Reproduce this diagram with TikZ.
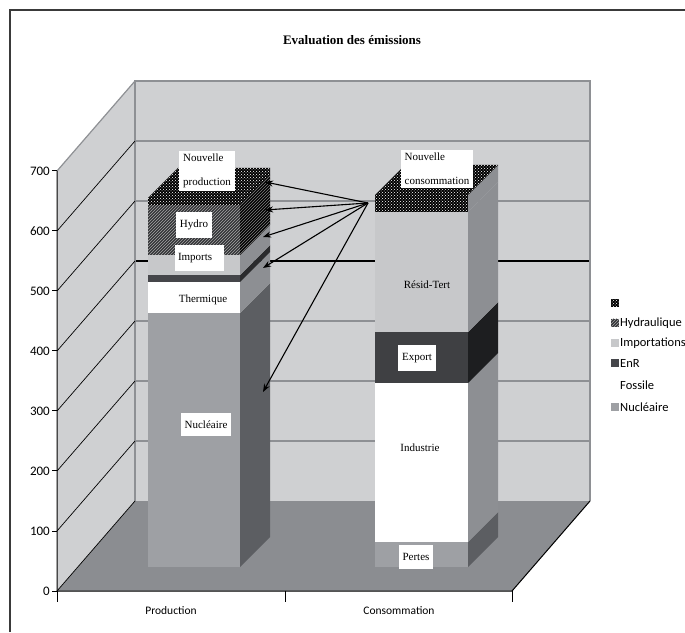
\documentclass[tikz,border=0pt]{standalone}
\usepackage{fontspec}
\setmainfont{Liberation Serif}
\setsansfont{Carlito}
\usetikzlibrary{patterns,arrows.meta}
\definecolor{framegray}{HTML}{3A3A3A}
\definecolor{wallgray}{HTML}{CFD0D2}
\definecolor{gridgray}{HTML}{8E9094}
\definecolor{floorgray}{HTML}{8B8D91}
\definecolor{nucfront}{HTML}{9EA0A4}
\definecolor{nucside}{HTML}{5C5E62}
\definecolor{lightside}{HTML}{8D8F93}
\definecolor{enrfront}{HTML}{45464A}
\definecolor{enrside}{HTML}{2A2B2D}
\definecolor{impfront}{HTML}{C7C8CA}
\definecolor{hydbg}{HTML}{333437}
\definecolor{expfront}{HTML}{3F4043}
\definecolor{expside}{HTML}{1D1E20}

\begin{document}
\begin{tikzpicture}[x=1pt,y=1pt,
  barlbl/.style={font=\fontsize{11}{13}\selectfont},
  boxlbl/.style={barlbl, fill=white, inner xsep=4pt, inner ysep=8pt},
  ticklbl/.style={font=\sffamily\fontsize{13}{15}\selectfont, anchor=east, inner sep=1pt},
  catlbl/.style={font=\sffamily\fontsize{11.5}{14}\selectfont},
  leglbl/.style={font=\sffamily\fontsize{12.5}{14}\selectfont, anchor=west, inner sep=0pt},
  newpat/.style={fill=black, postaction={pattern=crosshatch dots, pattern color=white}},
  hydpat/.style={fill=hydbg, postaction={pattern=north east lines, pattern color=gray!70}},
  hydside/.style={fill=black, postaction={pattern=north east lines, pattern color=gray}},
  gridback/.style={draw=gridgray, line width=2pt},
  gridside/.style={draw=black, line width=0.7pt},
  pointer/.style={-{Stealth[length=8pt,width=6pt]}, line width=1.1pt},
]
\useasboundingbox (0,0) rectangle (685,632);
\draw[framegray, line width=1.5pt] (10,0) -- (10,622) -- (685,622);

\node[font=\bfseries\fontsize{13}{15}\selectfont] (title) at (352,592) {Evaluation des émissions};

% walls and floor
\fill[wallgray] (57,41) -- (135,131) -- (135,551) -- (57,461) -- cycle;
\fill[wallgray] (135,131) rectangle (590,551);
\fill[floorgray] (57,41) -- (135,131) -- (590,131) -- (512,41) -- cycle;

\draw[gridback] (135,191) -- (590,191);
\draw[gridback] (135,251) -- (590,251);
\draw[gridback] (135,311) -- (590,311);
\draw[black, line width=1.2pt] (135,371) -- (590,371);
\draw[gridback] (135,431) -- (590,431);
\draw[gridback] (135,491) -- (590,491);
\draw[gridgray, line width=1.5pt] (135,131) -- (135,551) -- (590,551) -- (590,131);

\draw[gridside] (57,41) -- (135,131);
\draw[gridside] (57,101) -- (135,191);
\draw[gridside] (57,161) -- (135,251);
\draw[gridside] (57,221) -- (135,311);
\draw[gridside] (57,281) -- (135,371);
\draw[gridside] (57,341) -- (135,431);
\draw[gridside] (57,401) -- (135,491);
\draw[gridgray, line width=1.2pt] (57,461) -- (135,551);

% axes
\draw[line width=1pt] (57,461) -- (57,41) -- (512,41) -- (590,131);
\draw[line width=1pt] (57,41) -- (57,30);
\draw[line width=1pt] (285,41) -- (285,30);
\draw[line width=1pt] (512,41) -- (512,30);
\draw[line width=1pt] (52,41) -- (57,41);
\draw[line width=1pt] (52,101) -- (57,101);
\draw[line width=1pt] (52,161) -- (57,161);
\draw[line width=1pt] (52,221) -- (57,221);
\draw[line width=1pt] (52,281) -- (57,281);
\draw[line width=1pt] (52,341) -- (57,341);
\draw[line width=1pt] (52,401) -- (57,401);
\draw[line width=1pt] (52,461) -- (57,461);

\node[ticklbl] (v0) at (51,41) {0};
\node[ticklbl] (v100) at (51,101) {100};
\node[ticklbl] (v200) at (51,161) {200};
\node[ticklbl] (v300) at (51,221) {300};
\node[ticklbl] (v400) at (51,281) {400};
\node[ticklbl] (v500) at (51,341) {500};
\node[ticklbl] (v600) at (51,401) {600};
\node[ticklbl] (v700) at (51,461) {700};

\node[catlbl] (prod) at (171,21) {Production};
\node[catlbl] (cons) at (399,21) {Consommation};

% production bar
\fill[nucfront] (148,65) rectangle (240,319);
\fill[nucside] (240,65) -- ++(30,30) -- (270,349) -- (240,319) -- cycle;
\fill[white] (148,319) rectangle (240,350);
\fill[lightside] (240,319) -- ++(30,30) -- (270,380) -- (240,350) -- cycle;
\fill[enrfront] (148,350) rectangle (240,357);
\fill[enrside] (240,350) -- ++(30,30) -- (270,387) -- (240,357) -- cycle;
\fill[impfront] (148,357) rectangle (240,377);
\fill[lightside] (240,357) -- ++(30,30) -- (270,407) -- (240,377) -- cycle;
\fill[hydpat] (148,377) rectangle (240,427);
\fill[hydside] (240,377) -- ++(30,30) -- (270,457) -- (240,427) -- cycle;
\fill[newpat] (148,427) rectangle (240,434);
\fill[newpat] (240,427) -- ++(30,30) -- (270,464) -- (240,434) -- cycle;
\fill[newpat] (148,434) -- (240,434) -- (270,464) -- (178,464) -- cycle;

% consommation bar
\fill[nucfront] (375,65) rectangle (468,90);
\fill[nucside] (468,65) -- ++(30,30) -- (498,120) -- (468,90) -- cycle;
\fill[white] (375,90) rectangle (468,249);
\fill[lightside] (468,90) -- ++(30,30) -- (498,279) -- (468,249) -- cycle;
\fill[expfront] (375,249) rectangle (468,300);
\fill[expside] (468,249) -- ++(30,30) -- (498,330) -- (468,300) -- cycle;
\fill[impfront] (375,300) rectangle (468,420);
\fill[lightside] (468,300) -- ++(30,30) -- (498,450) -- (468,420) -- cycle;
\fill[newpat] (375,420) rectangle (468,437);
\fill[lightside] (468,420) -- ++(30,30) -- (498,467) -- (468,437) -- cycle;
\fill[newpat] (375,437) -- (468,437) -- (498,467) -- (405,467) -- cycle;

% labels
\node[boxlbl, align=left, font=\fontsize{11}{24}\selectfont, inner ysep=3pt] (newprod) at (207,461) {Nouvelle\\production};
\node[boxlbl] (hydro) at (194,407) {Hydro};
\node[boxlbl, inner xsep=3pt, text width=43pt, align=left] (imports) at (199.5,374) {Imports};
\node[barlbl] (therm) at (203,332) {Thermique};
\node[boxlbl] (nuc) at (206,207.5) {Nucléaire};
\node[boxlbl, align=left, font=\fontsize{11}{24}\selectfont, inner ysep=3pt] (newcons) at (437,463) {Nouvelle\\consommation};
\node[barlbl] (resid) at (427,347) {Résid-Tert};
\node[boxlbl] (export) at (417,274) {Export};
\node[barlbl] (indus) at (420,184) {Industrie};
\node[boxlbl] (pertes) at (416,75) {Pertes};

% arrows
\coordinate (src) at (368,429);
\coordinate (toNew) at (265,450);
\coordinate (toHyd) at (265,422);
\coordinate (toImp) at (263,395);
\coordinate (toEnr) at (263,364);
\coordinate (toNuc) at (263,240);
\draw[pointer] (src) -- (toNew);
\draw[pointer] (src) -- (toHyd);
\draw[pointer] (src) -- (toImp);
\draw[pointer] (src) -- (toEnr);
\draw[pointer] (src) -- (toNuc);

% legend
\fill[newpat] (611,325) rectangle (619,333);
\fill[hydpat] (611,305) rectangle (619,313);
\node[leglbl] (lgHyd) at (620,309) {Hydraulique};
\fill[impfront] (611,285) rectangle (619,293);
\node[leglbl] (lgImp) at (620,289) {Importations};
\fill[enrfront] (611,265) rectangle (619,273);
\node[leglbl] (lgEnr) at (620,269) {EnR};
\node[leglbl] (lgFos) at (620,247) {Fossile};
\fill[nucfront] (611,221) rectangle (619,229);
\node[leglbl] (lgNuc) at (620,225) {Nucléaire};
\end{tikzpicture}
\end{document}
